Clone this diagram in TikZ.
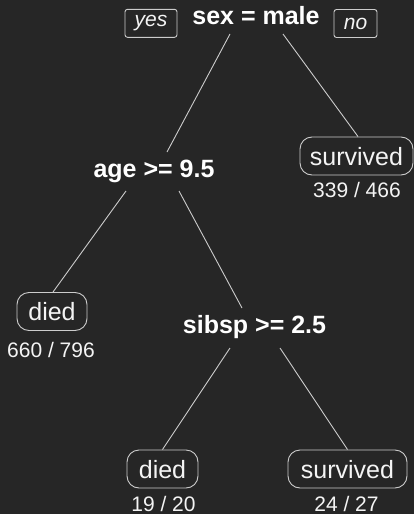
\documentclass[tikz,border=0pt]{standalone}
\usepackage{fontspec}
\setmainfont{Liberation Sans}
\definecolor{bgdark}{HTML}{262626}
\definecolor{edgegray}{HTML}{CCCCCC}
\definecolor{textwhite}{HTML}{F4F4F4}
\begin{document}
\begin{tikzpicture}[x=1pt, y=-1pt,
  split/.style={anchor=base, inner sep=0pt, text=white,
    font=\fontsize{25}{30}\selectfont\bfseries},
  leaf/.style={draw=edgegray, line width=0.9pt, rounded corners=12pt,
    text=textwhite, text height=18pt, text depth=0pt,
    inner ysep=10pt, inner xsep=0pt,
    font=\fontsize{25}{30}\selectfont},
  count/.style={anchor=base, inner sep=0pt, text=textwhite,
    text height=15pt, text depth=0pt,
    font=\fontsize{21}{25}\selectfont},
  tag/.style={draw=edgegray, line width=0.9pt, rounded corners=2.5pt,
    text=textwhite, inner sep=0pt, minimum height=28pt,
    font=\fontsize{21}{25}\selectfont\itshape},
  branch/.style={draw=edgegray, line width=0.9pt}
]
  % canvas
  \fill[bgdark] (0,0) rectangle (414,514);
  \useasboundingbox (0,0) rectangle (414,514);

  % split conditions
  \node[split] (sex)   at (256,24)    {sex = male};
  \node[split] (age)   at (154,177)   {age >= 9.5};
  \node[split] (sibsp) at (254.5,333) {sibsp >= 2.5};

  % branch direction tags
  \node[tag, minimum width=52pt] (yes) at (151,23.3) {yes};
  \node[tag, minimum width=43pt] (no)  at (355.5,23.5) {no};

  % leaves
  \node[leaf, minimum width=113pt] (surv1) at (356.5,156) {survived};
  \node[leaf, minimum width=70pt]  (died1) at (52,311.5)  {died};
  \node[leaf, minimum width=71pt]  (died2) at (162.5,469) {died};
  \node[leaf, minimum width=119pt] (surv2) at (347.5,469) {survived};

  % counts under the leaves
  \node[count] (n1) at (357,197)   {339 / 466};
  \node[count] (n2) at (51,357)    {660 / 796};
  \node[count] (n3) at (163.5,511.5) {19 / 20};
  \node[count] (n4) at (346.5,511.5) {24 / 27};

  % branches
  \draw[branch] ([shift={(-26,10)}]sex.base) -- ([shift={(13,-25)}]age.base);
  \draw[branch] ([shift={(27,10)}]sex.base) -- ([xshift=1.5pt]surv1.north);
  \draw[branch] ([shift={(-28,14)}]age.base) -- ([xshift=1pt]died1.north);
  \draw[branch] ([shift={(25,14)}]age.base) -- ([shift={(-12.5,-25)}]sibsp.base);
  \draw[branch] ([shift={(-24.5,15)}]sibsp.base) -- (died2.north);
  \draw[branch] ([shift={(25.5,15)}]sibsp.base) -- (surv2.north);
\end{tikzpicture}
\end{document}
